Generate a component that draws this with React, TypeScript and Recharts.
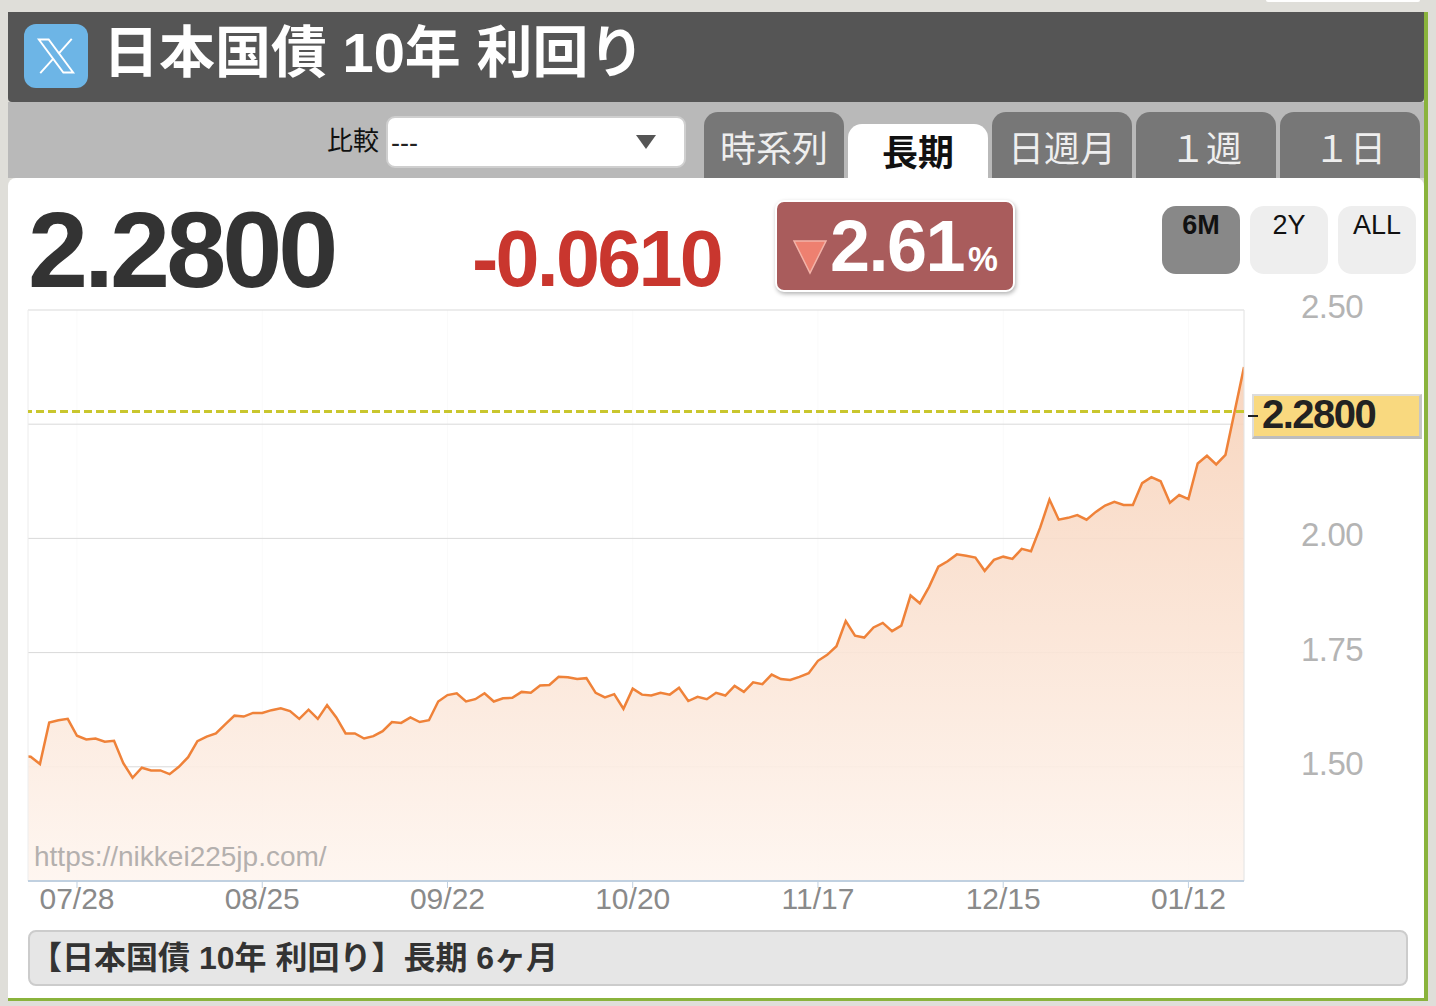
import { AreaChart, Area, XAxis, YAxis, CartesianGrid, ReferenceLine } from 'recharts';

const FONT = '"Liberation Sans","Noto Sans CJK JP",sans-serif';

// 利回り (日足) 先頭の1点はプロット左端で切れる
const yields = [
  1.523, 1.522, 1.506, 1.597, 1.602, 1.605, 1.568, 1.56, 1.562, 1.555, 1.557, 1.508, 1.476, 1.498, 1.492, 1.492, 1.484,
  1.5, 1.521, 1.556, 1.566, 1.573, 1.593, 1.612, 1.61, 1.618, 1.618, 1.624, 1.628, 1.622, 1.605, 1.625, 1.605, 1.635,
  1.608, 1.573, 1.573, 1.562, 1.567, 1.578, 1.598, 1.596, 1.608, 1.598, 1.602, 1.643, 1.657, 1.661, 1.643, 1.648, 1.661,
  1.643, 1.65, 1.651, 1.664, 1.662, 1.678, 1.679, 1.697, 1.696, 1.692, 1.694, 1.662, 1.652, 1.659, 1.627, 1.671, 1.658,
  1.656, 1.662, 1.658, 1.673, 1.644, 1.653, 1.648, 1.662, 1.656, 1.677, 1.664, 1.685, 1.681, 1.702, 1.692, 1.69, 1.697,
  1.705, 1.732, 1.745, 1.764, 1.819, 1.787, 1.783, 1.805, 1.815, 1.797, 1.809, 1.875, 1.858, 1.894, 1.938, 1.95, 1.965,
  1.962, 1.958, 1.929, 1.953, 1.96, 1.955, 1.977, 1.972, 2.024, 2.085, 2.041, 2.045, 2.051, 2.041, 2.058, 2.072, 2.08,
  2.073, 2.073, 2.121, 2.134, 2.125, 2.078, 2.095, 2.086, 2.164, 2.181, 2.162, 2.183, 2.279, 2.375,
];
const xTickIndexes = [5, 25, 45, 65, 85, 105, 125];
const xTickLabels = ['07/28', '08/25', '09/22', '10/20', '11/17', '12/15', '01/12'];
const yTicks = [1.25, 1.5, 1.75, 2, 2.25, 2.5];
const yLabels: Record<number, string> = { 1.5: '1.50', 1.75: '1.75', 2: '2.00', 2.5: '2.50' };
const tabs = ['時系列', '長期', '日週月', '１週', '１日'];
const ranges = ['6M', '2Y', 'ALL'];
const currentValue = 2.278;

const data = yields.map((value, i) => ({ idx: i - 1, value }));
const X_MIN = -0.29;
const X_MAX = 131;

const box = (left: number, top: number, width: number, height: number, extra: React.CSSProperties = {}): React.CSSProperties => ({
  position: 'absolute',
  left,
  top,
  width,
  height,
  boxSizing: 'border-box',
  ...extra,
});

const Txt = ({ x, cy, size, color, bold, children, sx = 1, spacing = 0 }: any) => (
  <div
    style={{
      position: 'absolute',
      left: x,
      top: cy - size,
      height: size * 2,
      lineHeight: `${size * 2}px`,
      fontSize: size,
      color,
      fontWeight: bold ? 700 : 400,
      whiteSpace: 'nowrap',
      letterSpacing: spacing,
      transform: sx !== 1 ? `scaleX(${sx})` : undefined,
      transformOrigin: 'left center',
    }}
  >
    {children}
  </div>
);

const YTick = ({ x, y, payload }: any) => {
  const label = yLabels[payload.value];
  if (!label) return null;
  return (
    <text x={x + 49} y={y + 8} fontSize={33} fontFamily={FONT} fill="#b4b4b4" letterSpacing={-0.5}>
      {label}
    </text>
  );
};

const Chart = () => (
  <AreaChart
    width={1436}
    height={1006}
    data={data}
    margin={{ top: 310, left: 28, right: 72, bottom: 0 }}
    style={{ position: 'absolute', left: 0, top: 0 }}
  >
    <defs>
      <linearGradient id="yieldFill" x1="0" y1="0" x2="0" y2="1">
        <stop offset="0%" stopColor="#f7d1b8" />
        <stop offset="100%" stopColor="#fef5ef" />
      </linearGradient>
    </defs>
    <CartesianGrid vertical stroke="#fafafa" horizontal={false} />
    <CartesianGrid horizontal stroke="#d9d9d9" vertical={false} />
    <XAxis
      dataKey="idx"
      type="number"
      domain={[X_MIN, X_MAX]}
      allowDataOverflow
      ticks={xTickIndexes}
      tickFormatter={(v: number) => xTickLabels[xTickIndexes.indexOf(v)]}
      height={125}
      tickSize={7}
      tickMargin={0}
      tickLine={{ stroke: '#c0d0e0', strokeWidth: 1 }}
      axisLine={{ stroke: '#c0d0e0', strokeWidth: 2 }}
      tick={{ fontSize: 30, fill: '#8a8a8a', fontFamily: FONT }}
      interval={0}
    />
    <YAxis
      orientation="right"
      domain={[1.25, 2.5]}
      ticks={yTicks}
      width={120}
      axisLine={false}
      tickLine={false}
      tick={<YTick />}
      interval={0}
    />
    <Area
      dataKey="value"
      type="linear"
      stroke="#ef8239"
      strokeWidth={2.5}
      fill="url(#yieldFill)"
      fillOpacity={0.9}
      dot={false}
      activeDot={false}
      isAnimationActive={false}
    />
    <ReferenceLine x={X_MIN} stroke="#eeeeee" />
    <ReferenceLine x={X_MAX} stroke="#e4e4e4" />
    <ReferenceLine y={currentValue} stroke="#c9c62e" strokeWidth={3} strokeDasharray="8 4" />
  </AreaChart>
);

const App = () => (
  <div style={{ position: 'absolute', left: 0, top: 0, width: 1436, height: 1006, background: '#dfded9', overflow: 'hidden', fontFamily: FONT }}>
    <div style={box(1266, 0, 154, 2, { background: '#fff', borderRadius: '0 0 6px 6px' })} />
    {/* 枠 */}
    <div style={box(8, 178, 1416, 820, { background: '#fff', borderRadius: '8px 8px 0 0' })} />
    <div style={box(8, 102, 1416, 76, { background: '#b9b9b9' })} />
    <div style={box(8, 12, 1416, 90, { background: '#555555', borderRadius: '0 0 4px 4px' })} />
    <div style={box(1424, 12, 4, 989, { background: '#8ab33c' })} />
    <div style={box(8, 998, 1420, 3, { background: '#8ab33c' })} />

    {/* タイトル */}
    <div style={box(24, 24, 64, 64, { background: '#6db5e6', borderRadius: 12 })}>
      <svg width={42} height={42} viewBox="0 0 24 24" style={{ position: 'absolute', left: 11, top: 11 }}>
        <polygon points="2.2,2.6 7.8,2.6 21.8,21.4 16.2,21.4" fill="none" stroke="#fff" strokeWidth={1.1} />
        <line x1={21} y1={2.2} x2={13.4} y2={10.8} stroke="#fff" strokeWidth={1.1} />
        <line x1={10.6} y1={13.4} x2={3} y2={21.8} stroke="#fff" strokeWidth={1.1} />
      </svg>
    </div>
    <Txt x={103} cy={53} size={56} color="#fff" bold>
      日本国債 10年 利回り
    </Txt>

    {/* 比較 */}
    <Txt x={327} cy={141} size={26} color="#111">
      比較
    </Txt>
    <div style={box(386, 116, 300, 52, { background: '#fff', border: '2px solid #cfcfcf', borderRadius: 9 })} />
    <Txt x={391} cy={143} size={27} color="#222">
      ---
    </Txt>
    <svg width={22} height={16} style={{ position: 'absolute', left: 635, top: 134 }}>
      <polygon points="1,1 21,1 11,15" fill="#555" />
    </svg>

    {/* タブ */}
    {tabs.map((t, i) => {
      const active = i === 1;
      const left = 704 + i * 144;
      const top = active ? 124 : 112;
      return (
        <div key={t} style={box(left, top, 140, 178 - top, { background: active ? '#fff' : '#777777', borderRadius: '14px 14px 0 0' })}>
          <div
            style={{
              position: 'absolute',
              left: 0,
              right: 0,
              top: active ? 9 : 17,
              textAlign: 'center',
              fontSize: 36,
              lineHeight: '42px',
              fontWeight: active ? 700 : 400,
              color: active ? '#111' : '#eee',
            }}
          >
            {t}
          </div>
        </div>
      );
    })}

    {/* 現在値 */}
    <Txt x={28} cy={250} size={108} color="#333" bold spacing={-4}>
      2.2800
    </Txt>
    <Txt x={472} cy={259} size={79} color="#c9362e" bold spacing={-2.7}>
      -0.0610
    </Txt>
    <div
      style={box(775, 200, 240, 92, {
        background: '#a95c5c',
        border: '2px solid #fff',
        borderRadius: 9,
        boxShadow: '1px 2px 4px rgba(0,0,0,0.3)',
      })}
    />
    <svg width={36} height={36} style={{ position: 'absolute', left: 792, top: 239 }}>
      <polygon points="2,2 34,2 18,34" fill="#ee8070" stroke="#f3b3a8" strokeWidth={1.5} />
    </svg>
    <Txt x={830} cy={246} size={72} color="#fff" bold spacing={-1.5}>
      2.61
    </Txt>
    <Txt x={968} cy={259} size={35} color="#fff" bold sx={0.96}>
      %
    </Txt>

    {/* 期間ボタン */}
    {ranges.map((r, i) => (
      <div
        key={r}
        style={box(1162 + i * 88, 206, 78, 68, {
          background: i === 0 ? '#888888' : '#eeeeee',
          borderRadius: 14,
          textAlign: 'center',
          fontSize: 27,
          lineHeight: '38px',
          color: '#111',
          fontWeight: i === 0 ? 700 : 400,
        })}
      >
        {r}
      </div>
    ))}

    <Chart />

    <Txt x={34} cy={857} size={28} color="#b4b0ae">
      https://nikkei225jp.com/
    </Txt>

    {/* 現在値ラベル */}
    <div style={box(1252, 394, 170, 45, { background: '#f9d97f', border: '2px solid #dcdcdc', borderBottom: '3px solid #bdbdbd', borderRight: '3px solid #c6c6c6' })} />
    <div style={box(1248, 415, 10, 2, { background: '#222' })} />
    <Txt x={1262} cy={414} size={40} color="#222" bold spacing={-1.5}>
      2.2800
    </Txt>

    {/* キャプション */}
    <div style={box(28, 930, 1380, 56, { background: '#e6e6e6', border: '2px solid #cccccc', borderRadius: 8 })} />
    <Txt x={30} cy={958} size={32} color="#333" bold>
      【日本国債 10年 利回り】長期 6ヶ月
    </Txt>
  </div>
);

export default App;
